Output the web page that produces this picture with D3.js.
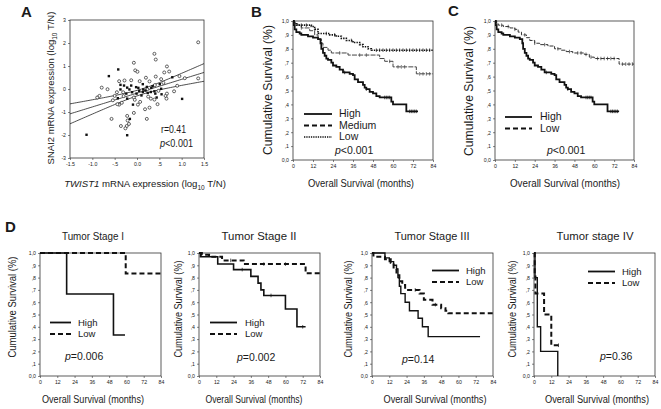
<!DOCTYPE html>
<html><head><meta charset="utf-8">
<script src="https://cdn.jsdelivr.net/npm/d3@7"></script>
<style>
body{margin:0;background:#fff}
svg{display:block}
text{font-family:Arial,"Liberation Sans",sans-serif;fill:#1a1a1a}
</style>
</head><body>
<svg id="c" width="661" height="409"></svg>
<script>
// ---------------- DATA ----------------
// Panel A scatter (TWIST1 log10 T/N, SNAI2 log10 T/N)
const scatterOpen = [[1.37,2.03],[0.39,1.53],[0.42,1.28],[-0.07,1.14],[-0.04,0.81],[0.01,0.75],[0.67,0.98],[0.72,0.76],[0.61,0.72],[0.95,0.56],[1.37,0.46],[0.83,-0.10],[-0.79,0.06],[-0.66,-0.01],[-0.89,-0.37],[-0.84,-0.30],[-0.57,-1.30],[-0.36,-1.61],[-0.23,-1.61],[-0.26,-1.71],[-0.18,-1.52],[-0.21,-1.37],[-0.22,-1.17],[-0.07,-1.04],[0.22,-1.30],[0.18,-0.88],[0.28,-0.81],[0.02,-0.68],[-0.40,-0.68],[-0.34,-0.60],[-0.54,-0.49],[-0.30,-0.31],[-0.31,-0.14],[-0.13,0.38],[-0.28,0.37],[-0.40,0.34],[0.06,0.34],[0.20,0.49],[0.28,0.33],[0.42,0.54],[0.54,0.43],[0.59,0.27],[0.40,0.17],[0.23,-0.01],[-0.07,-0.37],[0.25,-0.33],[0.31,-0.42],[0.39,-0.46],[0.46,-0.66],[0.64,-0.30],[0.66,-0.42],[0.67,-0.20],[0.48,-0.08],[0.90,0.14],[-0.05,-0.47],[0.07,-0.56],[-0.44,-0.66],[-0.50,-0.30],[-0.45,-0.14],[1.07,0.47]];
const scatterFilled = [[-1.13,-1.99],[-0.22,-2.01],[1.01,-0.43],[-0.42,0.85],[-0.63,0.56],[0.79,0.51],[-0.16,-1.30],[-0.09,-0.68],[-0.43,-0.40],[-0.22,-0.42],[-0.17,-0.02],[-0.13,0.15],[-0.37,0.18],[0.13,0.21],[0.51,0.21],[0.32,0.05],[0.14,-0.02],[0.05,-0.08],[-0.02,0.08],[-0.01,-0.20],[0.10,-0.28],[0.44,-0.37],[0.55,-0.23],[0.54,0.01],[0.39,-0.10],[0.35,0.12],[0.22,0.09],[0.03,0.05],[0.13,-0.13],[0.19,-0.07],[-0.11,-0.14],[-0.24,-0.20],[-0.37,-0.02],[-0.22,0.06],[-0.29,0.15],[0.24,-0.17],[0.31,-0.13],[0.41,-0.20]];
// regression fit
const fitIntercept = -0.18, fitSlope = 0.60, fitXMean = 0.10, fitSeMean = 0.118, fitSeSlope = 0.261;
const scatterTicksX = [-1.5,-1,-0.5,0,0.5,1,1.5];
const scatterTickLabelsX = ["-1.5","-1.0","-.5","0.0",".5","1.0","1.5"];
const scatterTicksY = [3,2,1,0,-1,-2,-3];
const scatterTickLabelsY = ["3","2","1","0","-1","-2","-3"];

// Kaplan-Meier axes
const kmTicksX = [0,12,24,36,48,60,72,84];
const kmTicksY = [0,0.1,0.2,0.3,0.4,0.5,0.6,0.7,0.8,0.9,1.0];
const kmTickLabelsY = ["0,0",",1",",2",",3",",4",",5",",6",",7",",8",",9","1,0"];

// Panels B & C: [months, cumulative survival]
const highAll = [[0,1],[0.5,0.97],[1,0.94],[2,0.92],[4,0.91],[5,0.90],[9,0.89],[12,0.88],[15,0.87],[16.5,0.84],[17,0.80],[18,0.77],[19,0.75],[20,0.73],[21,0.72],[23,0.70],[24,0.68],[26,0.67],[28,0.65],[30,0.63],[34,0.62],[36,0.61],[37,0.58],[39,0.56],[42,0.54],[43,0.52],[44,0.51],[46,0.49],[48,0.48],[50,0.46],[52,0.45],[59,0.42],[60,0.40],[68,0.35],[75,0.35]];
const highAllCensor = [31,44,55,56,57,58,70,71,72,73,74];
const mediumAll = [[0,1],[1,0.98],[3,0.97],[5,0.95],[10,0.93],[13,0.90],[15,0.87],[17,0.84],[18,0.81],[21,0.79],[23,0.77],[33,0.755],[52,0.73],[55,0.71],[60,0.67],[74,0.62],[84,0.62]];
const mediumAllCensor = [5,28,40,44,58,63,65,67,76,78,80,82];
const lowAll = [[0,1],[1,0.98],[2,0.97],[11,0.96],[13,0.94],[15,0.91],[22,0.90],[26,0.89],[29,0.875],[32,0.86],[36,0.845],[40,0.83],[42,0.815],[45,0.80],[47,0.79],[84,0.79]];
const lowAllCensor = [5,8,20,25,35,50,52,54,56,58,60,62,64,66,68,70,72,74,76,78,80,82];
const lowCombined = [[0,1],[1,0.98],[2,0.97],[5,0.96],[9,0.95],[12,0.94],[14,0.92],[16,0.90],[19,0.88],[21,0.86],[24,0.84],[27,0.83],[32,0.82],[36,0.80],[40,0.79],[43,0.78],[47,0.77],[54,0.76],[57,0.74],[60,0.73],[75,0.69],[84,0.69]];
const lowCombinedCensor = [4,8,12,18,24,30,38,45,50,52,55,58,62,64,66,68,70,72,77,79,81,83];

// Panel D: tumor stages
const stage1High = [[0,1],[18.5,0.667],[51,0.333],[59,0.333]];
const stage1Low = [[0,1],[59.5,0.833],[84,0.833]];
const stage2High = [[0,1],[1,0.97],[13,0.91],[24,0.865],[36,0.81],[41,0.755],[43,0.70],[45,0.655],[60,0.545],[68,0.40],[74,0.40]];
const stage2Low = [[0,1],[2,0.985],[7,0.97],[16,0.94],[31,0.91],[74,0.835],[84,0.835]];
const stage3High = [[0,1],[9,0.96],[12,0.93],[15,0.90],[17,0.87],[18,0.80],[19,0.73],[20,0.67],[23,0.60],[26,0.53],[32,0.47],[35,0.40],[39,0.32],[75,0.32]];
const stage3Low = [[0,1],[1,0.97],[9,0.95],[13,0.92],[15,0.87],[17,0.82],[19,0.77],[21,0.74],[23,0.70],[33,0.67],[36,0.62],[42,0.58],[48,0.55],[51,0.53],[53,0.51],[84,0.51]];
const stage4High = [[0,1],[0.7,0.8],[2.3,0.4],[4.6,0.2],[16.5,0],[16.5,0]];
const stage4Low = [[0,1],[0.5,0.83],[1,0.67],[7,0.5],[12,0.25],[17,0.25]];

// ---------------- DRAWING ----------------
const svg = d3.select("#c");
const FONT = 'Arial, "Liberation Sans", sans-serif';

function txt(g, x, y, s, size, opts = {}) {
  const t = g.append("text").attr("x", x).attr("y", y).attr("font-size", size)
    .attr("text-anchor", opts.anchor || "start");
  if (opts.bold) t.attr("font-weight", "bold");
  if (opts.len) t.attr("textLength", opts.len).attr("lengthAdjust", "spacingAndGlyphs");
  if (opts.rotate) t.attr("transform", `rotate(-90,${x},${y})`);
  t.text(s);
  return t;
}
function pText(g, x, y, rest, size) {
  const t = g.append("text").attr("x", x).attr("y", y).attr("font-size", size);
  t.append("tspan").attr("font-style", "italic").text("p");
  t.append("tspan").text(rest);
}
function styleAxis(a) {
  a.select(".domain").remove();
  a.selectAll(".tick line").attr("stroke", "#333").attr("stroke-width", 0.6);
  a.selectAll(".tick text").attr("font-size", 5.2).attr("font-family", FONT).attr("fill", "#333");
}
function stepValue(data, t) {
  let v = data[0][1];
  for (const d of data) { if (d[0] <= t) v = d[1]; }
  return v;
}

function kmPanel(o) {
  const g = svg.append("g");
  const x = d3.scaleLinear().domain([0, 84]).range([o.x0, o.x1]);
  const y = d3.scaleLinear().domain([0, 1]).range([o.y1, o.y0]);
  const ax = g.append("g").attr("transform", `translate(0,${o.y1})`)
    .call(d3.axisBottom(x).tickValues(kmTicksX).tickSize(2).tickPadding(2));
  styleAxis(ax);
  const ay = g.append("g").attr("transform", `translate(${o.x0},0)`)
    .call(d3.axisLeft(y).tickValues(kmTicksY).tickFormat((d, i) => kmTickLabelsY[i]).tickSize(2).tickPadding(2));
  styleAxis(ay);
  ay.selectAll(".tick text").attr("dy", "0.35em");
  g.append("rect").attr("x", o.x0).attr("y", o.y0).attr("width", o.x1 - o.x0).attr("height", o.y1 - o.y0)
    .attr("fill", "none").attr("stroke", "#333").attr("stroke-width", 0.8);
  const line = d3.line().x(d => x(d[0])).y(d => y(d[1])).curve(d3.curveStepAfter);
  o.curves.forEach(c => {
    g.append("path").attr("d", line(c.data)).attr("fill", "none")
      .attr("stroke", c.color || "#111").attr("stroke-width", c.w)
      .attr("stroke-dasharray", c.dash || null);
    (c.censor || []).forEach(ct => {
      const v = stepValue(c.data, ct);
      g.append("line").attr("x1", x(ct)).attr("x2", x(ct)).attr("y1", y(v) - 1.8).attr("y2", y(v) + 1.8)
        .attr("stroke", c.color || "#111").attr("stroke-width", 0.7);
    });
  });
  o.legend.forEach(l => {
    g.append("line").attr("x1", o.lx0).attr("x2", o.lx1).attr("y1", l.y).attr("y2", l.y)
      .attr("stroke", "#111").attr("stroke-width", l.w).attr("stroke-dasharray", l.dash || null);
    txt(g, o.tx, l.y + 3.4, l.label, o.legSize);
  });
  pText(g, o.px, o.py, o.pRest, o.pSize);
  txt(g, o.ylx, o.yly, "Cumulative Survival (%)", o.ylSize, { anchor: "middle", rotate: true, len: o.ylLen });
  txt(g, o.xlx, o.xly, "Overall Survival (months)", o.xlSize, { anchor: "middle", len: o.xlLen });
  if (o.title) txt(g, o.titleX, o.titleY, o.title, 10.8, { anchor: "middle", len: o.titleLen });
  if (o.letter) txt(g, o.letterX, o.letterY, o.letter, 15, { bold: true });
}

// ---- Panel A ----
(function () {
  const g = svg.append("g");
  const x0 = 70, x1 = 204, y0 = 20, y1 = 158;
  const x = d3.scaleLinear().domain([-1.5, 1.5]).range([x0, x1]);
  const y = d3.scaleLinear().domain([-3, 3]).range([y1, y0]);
  const ax = g.append("g").attr("transform", `translate(0,${y1})`)
    .call(d3.axisBottom(x).tickValues(scatterTicksX).tickFormat((d, i) => scatterTickLabelsX[i]).tickSize(2).tickPadding(2));
  styleAxis(ax);
  const ay = g.append("g").attr("transform", `translate(${x0},0)`)
    .call(d3.axisLeft(y).tickValues(scatterTicksY).tickFormat((d, i) => scatterTickLabelsY[i]).tickSize(2).tickPadding(2));
  styleAxis(ay);
  ay.selectAll(".tick text").attr("dy", "0.35em");
  g.append("rect").attr("x", x0).attr("y", y0).attr("width", x1 - x0).attr("height", y1 - y0)
    .attr("fill", "none").attr("stroke", "#333").attr("stroke-width", 0.8);

  const xs = d3.range(-1.5, 1.5001, 0.05);
  const fit = v => fitIntercept + fitSlope * v;
  const half = v => Math.sqrt(fitSeMean * fitSeMean + Math.pow(fitSeSlope * (v - fitXMean), 2));
  const ln = d3.line().x(d => x(d[0])).y(d => y(d[1]));
  [v => fit(v), v => fit(v) + half(v), v => fit(v) - half(v)].forEach(f => {
    g.append("path").attr("d", ln(xs.map(v => [v, f(v)]))).attr("fill", "none")
      .attr("stroke", "#222").attr("stroke-width", 0.8);
  });
  g.selectAll("circle.o").data(scatterOpen).join("circle").attr("class", "o")
    .attr("cx", d => x(d[0])).attr("cy", d => y(d[1])).attr("r", 1.5)
    .attr("fill", "#fff").attr("stroke", "#222").attr("stroke-width", 0.7);
  g.selectAll("rect.f").data(scatterFilled).join("rect").attr("class", "f")
    .attr("x", d => x(d[0]) - 1.2).attr("y", d => y(d[1]) - 1.2).attr("width", 2.4).attr("height", 2.4)
    .attr("fill", "#111");

  txt(g, 161, 132.5, "r=0.41", 11, { len: 25 });
  const p = g.append("text").attr("x", 160).attr("y", 147).attr("font-size", 11)
    .attr("textLength", 33).attr("lengthAdjust", "spacingAndGlyphs");
  p.append("tspan").attr("font-style", "italic").text("p");
  p.append("tspan").text("<0.001");

  // y label
  const yl = g.append("text").attr("x", 54).attr("y", 88).attr("font-size", 9.5)
    .attr("text-anchor", "middle").attr("transform", "rotate(-90,54,88)");
  yl.append("tspan").text("SNAI2 mRNA expression (log");
  yl.append("tspan").attr("font-size", 6.5).attr("dy", 3).text("10");
  yl.append("tspan").attr("dy", -3).text(" T/N)");
  // x label
  const xl = g.append("text").attr("x", 145).attr("y", 187).attr("font-size", 9.6)
    .attr("text-anchor", "middle");
  xl.append("tspan").attr("font-style", "italic").text("TWIST1");
  xl.append("tspan").text(" mRNA expression (log");
  xl.append("tspan").attr("font-size", 6.5).attr("dy", 3).text("10");
  xl.append("tspan").attr("dy", -3).text(" T/N)");
  txt(g, 21, 17, "A", 15, { bold: true });
})();

// ---- Panel B ----
kmPanel({
  x0: 293, x1: 433, y0: 21, y1: 160,
  curves: [
    { data: mediumAll, w: 1, dash: "5,1.2", color: "#444", censor: mediumAllCensor },
    { data: lowAll, w: 1.6, dash: "1.4,1.1", censor: lowAllCensor },
    { data: highAll, w: 1.8, censor: highAllCensor }
  ],
  lx0: 304, lx1: 332, tx: 339, legSize: 10.5,
  legend: [
    { y: 114, label: "High", w: 1.8 },
    { y: 125.5, label: "Medium", w: 1.8, dash: "5,3" },
    { y: 137, label: "Low", w: 1.4, dash: "1.3,1" }
  ],
  px: 335, py: 153.5, pRest: "<0.001", pSize: 10.5,
  ylx: 272, yly: 90, ylSize: 12.5, ylLen: 130,
  xlx: 361, xly: 187, xlSize: 11, xlLen: 106,
  letter: "B", letterX: 251, letterY: 17
});

// ---- Panel C ----
kmPanel({
  x0: 495, x1: 634, y0: 21, y1: 160,
  curves: [
    { data: lowCombined, w: 1, dash: "4,1.3", color: "#333", censor: lowCombinedCensor },
    { data: highAll, w: 1.8, censor: highAllCensor }
  ],
  lx0: 505, lx1: 532, tx: 540, legSize: 10.5,
  legend: [
    { y: 117, label: "High", w: 1.8 },
    { y: 128.5, label: "Low", w: 1.8, dash: "5,3" }
  ],
  px: 547, py: 153.5, pRest: "<0.001", pSize: 10.5,
  ylx: 473, yly: 91, ylSize: 12.5, ylLen: 130,
  xlx: 565, xly: 187, xlSize: 11, xlLen: 110,
  letter: "C", letterX: 448, letterY: 16
});

// ---- Panel D ----
const dLeg = (y1, y2) => [
  { y: y1, label: "High", w: 1.8 },
  { y: y2, label: "Low", w: 2, dash: "5,3" }
];
kmPanel({
  x0: 40, x1: 161, y0: 253, y1: 376,
  curves: [
    { data: stage1Low, w: 2, dash: "5,3" },
    { data: stage1High, w: 1.6 }
  ],
  lx0: 50, lx1: 71, tx: 78, legSize: 9.5, legend: dLeg(322.5, 334),
  px: 65, py: 360, pRest: "=0.006", pSize: 10.5,
  ylx: 16, yly: 307, ylSize: 11, ylLen: 101,
  xlx: 93, xly: 403, xlSize: 10.5, xlLen: 102,
  title: "Tumor Stage I", titleX: 93, titleY: 240, titleLen: 62,
  letter: "D", letterX: 5, letterY: 232
});
kmPanel({
  x0: 199, x1: 320, y0: 253, y1: 376,
  curves: [
    { data: stage2Low, w: 2, dash: "5,3", censor: [22, 45, 60] },
    { data: stage2High, w: 1.6, censor: [30, 50, 72] }
  ],
  lx0: 210, lx1: 237, tx: 245, legSize: 9.5, legend: dLeg(322.5, 334),
  px: 237, py: 361, pRest: "=0.002", pSize: 10.5,
  ylx: 182, yly: 309, ylSize: 11, ylLen: 97,
  xlx: 254, xly: 403, xlSize: 10.5, xlLen: 97,
  title: "Tumor Stage II", titleX: 259, titleY: 240, titleLen: 75
});
kmPanel({
  x0: 372, x1: 493, y0: 253, y1: 376,
  curves: [
    { data: stage3Low, w: 2, dash: "5,3", censor: [30, 44] },
    { data: stage3High, w: 1.4 }
  ],
  lx0: 432, lx1: 459, tx: 466, legSize: 9.5, legend: dLeg(270.5, 282),
  px: 402, py: 363, pRest: "=0.14", pSize: 10.5,
  ylx: 352, yly: 309, ylSize: 11, ylLen: 97,
  xlx: 435, xly: 403, xlSize: 10.5, xlLen: 103,
  title: "Tumor Stage III", titleX: 432, titleY: 240, titleLen: 75
});
kmPanel({
  x0: 534, x1: 655, y0: 253, y1: 376,
  curves: [
    { data: stage4Low, w: 2, dash: "5,3", censor: [17] },
    { data: stage4High, w: 1.4 }
  ],
  lx0: 588, lx1: 615, tx: 622, legSize: 9.5, legend: dLeg(271.5, 283),
  px: 600, py: 360, pRest: "=0.36", pSize: 10.5,
  ylx: 516, yly: 309, ylSize: 11, ylLen: 97,
  xlx: 597, xly: 403, xlSize: 10, xlLen: 104,
  title: "Tumor stage IV", titleX: 595, titleY: 240, titleLen: 77
});
</script>
</body></html>
